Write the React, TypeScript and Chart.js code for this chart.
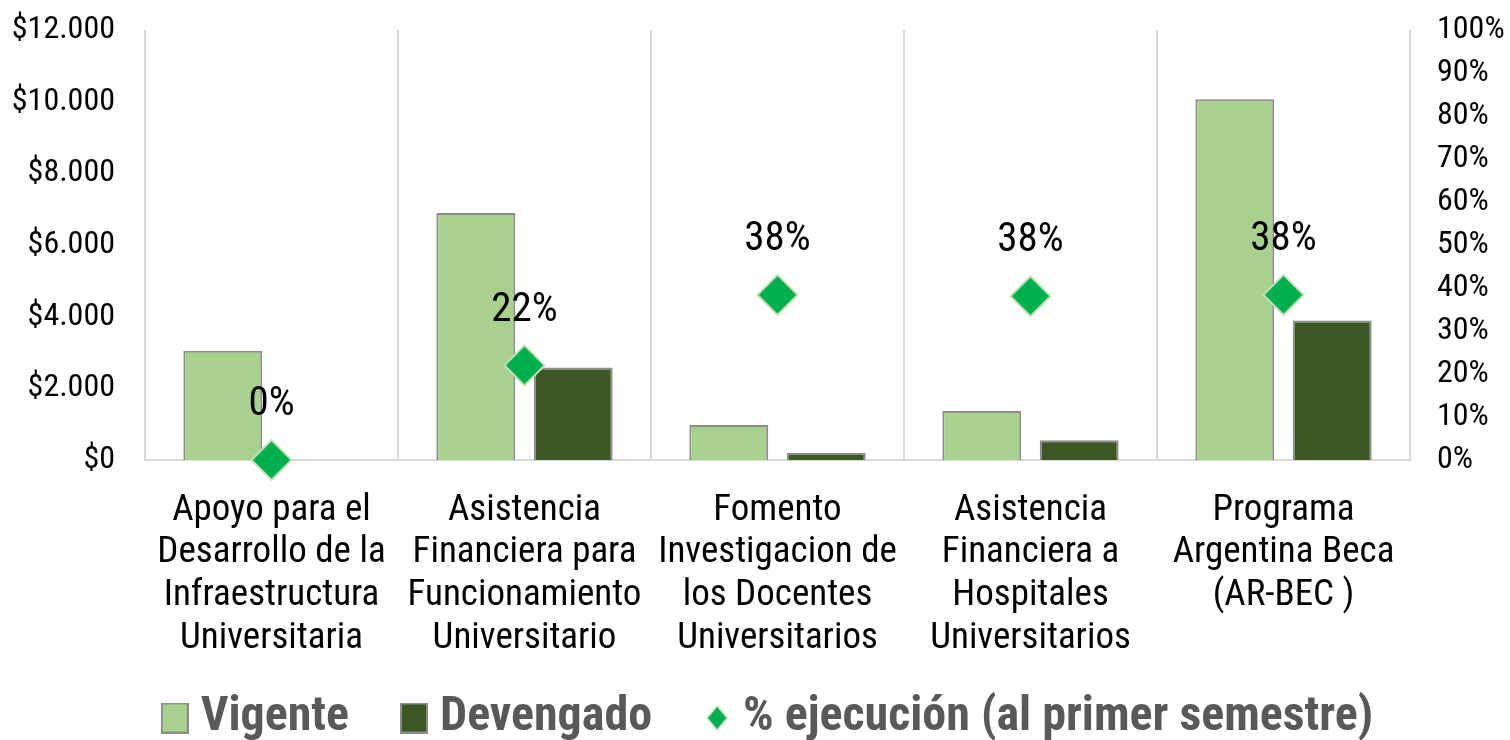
import React, { useEffect, useRef } from "react";
import { Chart, registerables } from "chart.js";

Chart.register(...registerables);

const categories: string[][] = [
  ["Apoyo para el", "Desarrollo de la", "Infraestructura", "Universitaria"],
  ["Asistencia", "Financiera para", "Funcionamiento", "Universitario"],
  ["Fomento", "Investigacion de", "los Docentes", "Universitarios"],
  ["Asistencia", "Financiera a", "Hospitales", "Universitarios"],
  ["Programa", "Argentina Beca", "(AR-BEC )"],
];
const vigente: number[] = [3050, 6890, 980, 1370, 10070];
const devengado: number[] = [0, 2580, 200, 550, 3890];
const ejecucion: number[] = [0, 22, 38.4, 38.1, 38.4];
const seriesNames: string[] = ["Vigente", "Devengado", "% ejecución (al primer semestre)"];

const FONT = "'Roboto Condensed', 'Liberation Sans Narrow', 'DejaVu Sans Condensed', Roboto, sans-serif";
const C_VIG = "#a9d18e";
const C_DEV = "#3a5724";
const C_PCT = "#00b050";
const C_PCT_BORDER = "#c5e0b4";
const C_BAR_BORDER = "#8c8c8c";
const C_GRID = "#d9d9d9";

function makeBoxIcon(fill: string): HTMLCanvasElement {
  const c = document.createElement("canvas");
  c.width = 28;
  c.height = 31;
  const ctx = c.getContext("2d")!;
  ctx.fillStyle = fill;
  ctx.fillRect(0, 0, 28, 31);
  ctx.strokeStyle = C_BAR_BORDER;
  ctx.lineWidth = 2;
  ctx.strokeRect(1, 1, 26, 29);
  return c;
}
function makeDiamondIcon(): HTMLCanvasElement {
  const c = document.createElement("canvas");
  c.width = 22;
  c.height = 26;
  const ctx = c.getContext("2d")!;
  ctx.beginPath();
  ctx.moveTo(11, 1);
  ctx.lineTo(21, 13);
  ctx.lineTo(11, 25);
  ctx.lineTo(1, 13);
  ctx.closePath();
  ctx.fillStyle = C_PCT;
  ctx.fill();
  ctx.strokeStyle = C_PCT_BORDER;
  ctx.lineWidth = 1.5;
  ctx.stroke();
  return c;
}

const pctLabelPlugin = {
  id: "pctLabels",
  afterLayout(chart: any) {
    Object.values(chart.scales).forEach((s: any) => {
      s._computeLabelArea = () => undefined;
    });
    if (chart.legend) {
      chart.legend.left += 18;
      chart.legend.right += 18;
    }
  },
  afterDatasetsDraw(chart: any) {
    const meta = chart.getDatasetMeta(2);
    const ctx = chart.ctx;
    ctx.save();
    ctx.font = `41px ${FONT}`;
    ctx.fillStyle = "#000000";
    ctx.textAlign = "center";
    ctx.textBaseline = "middle";
    meta.data.forEach((pt: any, i: number) => {
      ctx.fillText(Math.round(ejecucion[i]) + "%", pt.x, pt.y - 55);
    });
    ctx.restore();
  },
};

const noPad = (scale: any) => {
  scale.paddingTop = 0;
  scale.paddingBottom = 0;
};

export default function App() {
  const ref = useRef<HTMLCanvasElement>(null);
  useEffect(() => {
    document.body.style.margin = "0";
    const icons = [makeBoxIcon(C_VIG), makeBoxIcon(C_DEV), makeDiamondIcon()];
    const chart = new Chart(ref.current!, {
      type: "bar",
      data: {
        labels: categories,
        datasets: [
          {
            type: "bar",
            label: seriesNames[0],
            data: vigente,
            backgroundColor: C_VIG,
            borderColor: C_BAR_BORDER,
            borderWidth: 2,
            yAxisID: "y",
            categoryPercentage: 0.77,
            barPercentage: 0.81,
            order: 2,
          },
          {
            type: "bar",
            label: seriesNames[1],
            data: devengado,
            backgroundColor: C_DEV,
            borderColor: C_BAR_BORDER,
            borderWidth: 2,
            yAxisID: "y",
            categoryPercentage: 0.77,
            barPercentage: 0.81,
            order: 2,
          },
          {
            type: "line",
            label: seriesNames[2],
            data: ejecucion,
            yAxisID: "y1",
            showLine: false,
            pointStyle: "rectRot",
            pointRadius: 20,
            pointHoverRadius: 20,
            pointBackgroundColor: C_PCT,
            pointBorderColor: C_PCT_BORDER,
            pointBorderWidth: 2,
            backgroundColor: C_PCT,
            borderColor: C_PCT_BORDER,
            order: 1,
            clip: false,
          } as any,
        ],
      },
      options: {
        animation: false,
        responsive: false,
        maintainAspectRatio: false,
        layout: { padding: { top: 30, left: 0, right: 0, bottom: 0 } },
        plugins: {
          tooltip: { enabled: false },
          legend: {
            position: "bottom",
            maxHeight: 109,
            labels: {
              usePointStyle: true,
              pointStyleWidth: 4,
              padding: 63,
              color: "#595959",
              font: { family: FONT, size: 48, weight: "bold" },
              generateLabels: (chart: any) =>
                chart.data.datasets.map((ds: any, i: number) => ({
                  text: ds.label,
                  fillStyle: "transparent",
                  strokeStyle: "transparent",
                  lineWidth: 0,
                  pointStyle: icons[i],
                  hidden: false,
                  datasetIndex: i,
                  fontColor: "#595959",
                })),
            },
          },
        },
        scales: {
          x: {
            offset: true,
            grid: { display: true, offset: true, color: C_GRID, lineWidth: 2, drawTicks: false },
            border: { display: true, color: C_GRID, width: 2 },
            ticks: {
              color: "#000000",
              font: { family: FONT, size: 37, lineHeight: 1.155 },
              padding: 29,
              maxRotation: 0,
              minRotation: 0,
              autoSkip: false,
            },
            afterFit: (scale: any) => {
              scale.height = 171;
              scale.paddingLeft = 0;
              scale.paddingRight = 0;
            },
          },
          y: {
            position: "left",
            min: 0,
            max: 12000,
            grid: { display: false, drawTicks: false },
            border: { display: false },
            ticks: {
              stepSize: 2000,
              padding: 30,
              autoSkip: false,
              color: "#000000",
              font: { family: FONT, size: 32, lineHeight: 1 },
              callback: (v: any) => "$" + Number(v).toLocaleString("de-DE"),
            },
            afterFit: (scale: any) => {
              scale.width = 145;
              noPad(scale);
            },
          },
          y1: {
            position: "right",
            min: 0,
            max: 100,
            grid: { display: false, drawTicks: false },
            border: { display: false },
            ticks: {
              stepSize: 10,
              padding: 27,
              autoSkip: false,
              color: "#000000",
              font: { family: FONT, size: 32, lineHeight: 1 },
              callback: (v: any) => v + "%",
            },
            afterFit: (scale: any) => {
              scale.width = 100;
              noPad(scale);
            },
          },
        },
      },
      plugins: [pctLabelPlugin],
    } as any);
    return () => chart.destroy();
  }, []);
  return (
    <div style={{ width: 1510, height: 740 }}>
      <canvas ref={ref} width={1510} height={740} style={{ display: "block" }} />
    </div>
  );
}
